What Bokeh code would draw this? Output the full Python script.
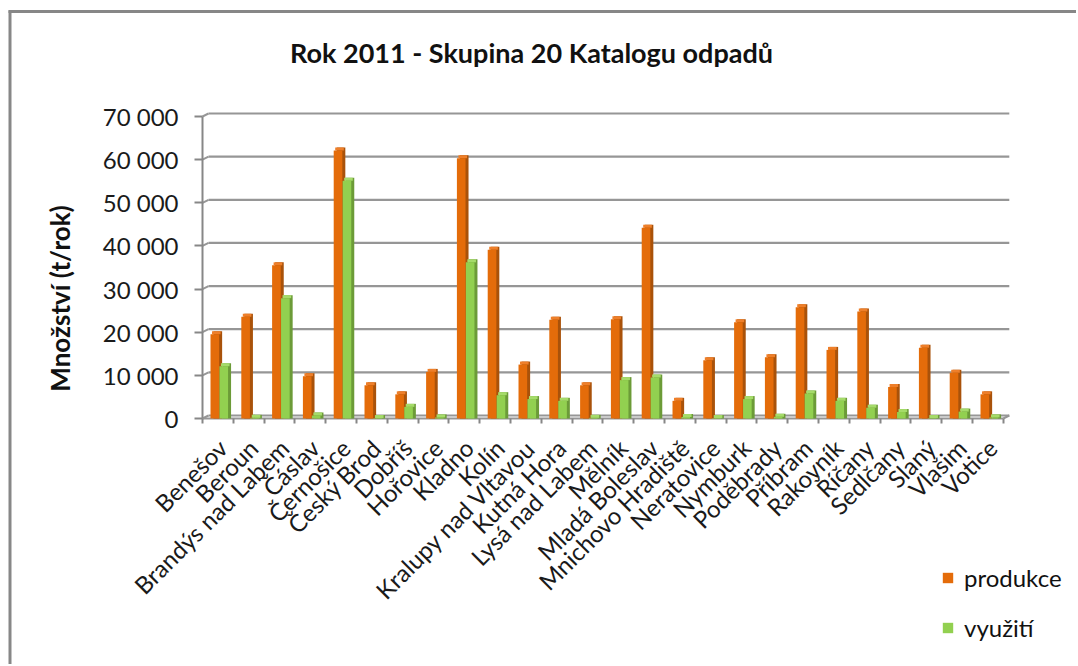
import numpy as np
from bokeh.plotting import figure
from bokeh.models import Range1d, FixedTicker, Label, Legend, LegendItem, ColumnDataSource
from bokeh.embed import file_html
from bokeh.resources import INLINE

categories = ["Benešov", "Beroun", "Brandýs nad Labem", "Čáslav", "Černošice", "Český Brod",
              "Dobříš", "Hořovice", "Kladno", "Kolín", "Kralupy nad Vltavou", "Kutná Hora",
              "Lysá nad Labem", "Mělník", "Mladá Boleslav", "Mnichovo Hradiště", "Neratovice",
              "Nymburk", "Poděbrady", "Příbram", "Rakovník", "Říčany", "Sedlčany", "Slaný",
              "Vlašim", "Votice"]
produkce = [19500, 23600, 35500, 9800, 62100, 7700, 5600, 10800, 60300, 39100, 12500, 22900,
            7700, 23000, 44200, 4100, 13500, 22300, 14200, 25800, 15900, 24800, 7300, 16400,
            10600, 5600]
vyuziti = [12100, 150, 27900, 700, 55100, 100, 2700, 250, 36200, 5400, 4500, 4100, 150, 8900,
           9500, 350, 100, 4500, 400, 5800, 4100, 2500, 1500, 100, 1600, 250]
y_ticks = [0, 10000, 20000, 30000, 40000, 50000, 60000, 70000]
y_tick_labels = ["0", "10 000", "20 000", "30 000", "40 000", "50 000", "60 000", "70 000"]
series_names = ["produkce", "využití"]
title_text = "Rok 2011 - Skupina 20 Katalogu odpadů"
y_label_text = "Množství (t/rok)"

FONT = "Lato"
n = len(categories)
CW, CH = 1076, 664                 # canvas size
AX_L, AX_B, AX_T = 202, 418, 116   # left wall x, floor y, 70 000 y (page pixels)
PX_X = 800.8 / n                   # pixels per category
PX_Y = (AX_B - AX_T) / 70000       # pixels per t/rok
LABEL_SHIFT = 0.15                 # category label anchor shift (category units)


def xd(px):
    return -0.5 + (px - AX_L) / PX_X


def yd(py):
    return (AX_B - py) / PX_Y


p = figure(width=CW, height=CH,
           x_range=Range1d(xd(0), xd(CW)), y_range=Range1d(yd(CH), yd(0)),
           output_backend="svg", toolbar_location=None, min_border=0)
p.outline_line_color = None
p.xgrid.visible = False
p.ygrid.visible = False
p.background_fill_color = "white"
p.border_fill_color = "white"

GRID = "#969696"
dx = 6 / PX_X
dy = 3 / PX_Y

# outer chart border (top and left edges)
p.segment(x0=[xd(9.5)], y0=[yd(10)], x1=[xd(9.5)], y1=[yd(CH)], line_color="#878787", line_width=3)
p.segment(x0=[xd(8)], y0=[yd(11)], x1=[xd(CW)], y1=[yd(11)], line_color="#878787", line_width=3)

# back wall gridlines + slanted connectors to the left wall
gv = np.array(y_ticks, dtype=float)
p.segment(x0=np.full(len(gv), -0.5 + dx), y0=gv + dy, x1=np.full(len(gv), n - 0.5 + dx), y1=gv + dy,
          line_color=GRID, line_width=2.2)
p.segment(x0=np.full(len(gv), -0.5), y0=gv, x1=np.full(len(gv), -0.5 + dx), y1=gv + dy,
          line_color=GRID, line_width=2)
# left wall, floor front edge and right slant
p.segment(x0=[-0.5], y0=[0], x1=[-0.5], y1=[gv[-1]], line_color="#878787", line_width=2)
p.segment(x0=[-0.5], y0=[0], x1=[n - 0.5], y1=[0], line_color=GRID, line_width=2.2)
p.segment(x0=[n - 0.5], y0=[0], x1=[n - 0.5 + dx], y1=[dy], line_color=GRID, line_width=2)

idx = np.arange(n)
W = 0.28
po = np.array(produkce, dtype=float)
vg = np.array(vyuziti, dtype=float)
src = ColumnDataSource(dict(xo=idx - 0.10, xg=idx + 0.19, po=po, vg=vg,
                            po_top=po + dy, vg_top=vg + dy))
src.data["xo_side"] = src.data["xo"] + dx / 2
src.data["xo_cap"] = src.data["xo"] + dx / 4
src.data["xg_side"] = src.data["xg"] + dx / 2
src.data["xg_cap"] = src.data["xg"] + dx / 4

# orange series
p.vbar(x="xo_side", top="po_top", bottom=0, width=W, source=src, fill_color="#A9520A", line_color=None)
p.vbar(x="xo_cap", top="po_top", bottom="po", width=W, source=src, fill_color="#EE7F2A", line_color=None)
r_or = p.vbar(x="xo", top="po", bottom=0, width=W, source=src, fill_color="#E46C0A", line_color=None)
# green series
p.vbar(x="xg_side", top="vg_top", bottom=0, width=W, source=src, fill_color="#6C9B38", line_color=None)
p.vbar(x="xg_cap", top="vg_top", bottom="vg", width=W, source=src, fill_color="#A5DB6A", line_color=None)
r_gr = p.vbar(x="xg", top="vg", bottom=0, width=W, source=src, fill_color="#92D050", line_color=None)

# y axis (fixed at the left wall)
ya = p.yaxis[0]
ya.fixed_location = -0.5
ya.ticker = FixedTicker(ticks=y_ticks)
ya.major_label_overrides = dict(zip(y_ticks, y_tick_labels))
ya.major_tick_out = 8
ya.major_tick_in = 0
ya.minor_tick_line_color = None
ya.axis_line_color = None
ya.major_tick_line_color = "#878787"
ya.major_tick_line_width = 2
ya.major_label_standoff = 16
ya.major_label_text_font = FONT
ya.major_label_text_font_size = "24px"
ya.major_label_text_color = "#1a1a1a"

# x axis (fixed on the floor); labels anchored slightly right of each category centre
label_pos = [i + LABEL_SHIFT for i in range(n)]
xa = p.xaxis[0]
xa.fixed_location = 0
xa.ticker = FixedTicker(ticks=label_pos, minor_ticks=[i - 0.5 for i in range(n + 1)])
xa.major_label_overrides = dict(zip(label_pos, categories))
xa.major_label_orientation = np.pi / 4
xa.axis_line_color = None
xa.major_tick_line_color = None
xa.major_tick_out = 0
xa.major_tick_in = 0
xa.minor_tick_line_color = "#878787"
xa.minor_tick_line_width = 2
xa.minor_tick_out = 5
xa.minor_tick_in = 0
xa.major_label_standoff = 20
xa.major_label_text_font = FONT
xa.major_label_text_font_size = "24px"
xa.major_label_text_color = "#1a1a1a"

# title and y label
p.add_layout(Label(x=xd(531), y=yd(52), text=title_text, text_align="center", text_baseline="alphabetic",
                   text_font=FONT, text_font_style="bold", text_font_size="27px", text_color="#111111"))
p.add_layout(Label(x=xd(59), y=yd(298), text=y_label_text, angle=np.pi / 2, text_align="center",
                   text_baseline="alphabetic", text_font=FONT, text_font_style="bold",
                   text_font_size="26px", text_color="#111111"))

LEG_TOP, LEG_H = 565, 77
legend = Legend(items=[LegendItem(label=series_names[0], renderers=[r_or]),
                       LegendItem(label=series_names[1], renderers=[r_gr])],
                location=(941, CH - LEG_TOP - LEG_H), glyph_width=13, glyph_height=13, label_standoff=10,
                spacing=21, padding=0, margin=0, border_line_color=None, background_fill_alpha=0,
                label_text_font=FONT, label_text_font_size="24px", label_height=28,
                label_text_color="#111111")
p.add_layout(legend)

open("out.html", "w").write(file_html(p, INLINE))
